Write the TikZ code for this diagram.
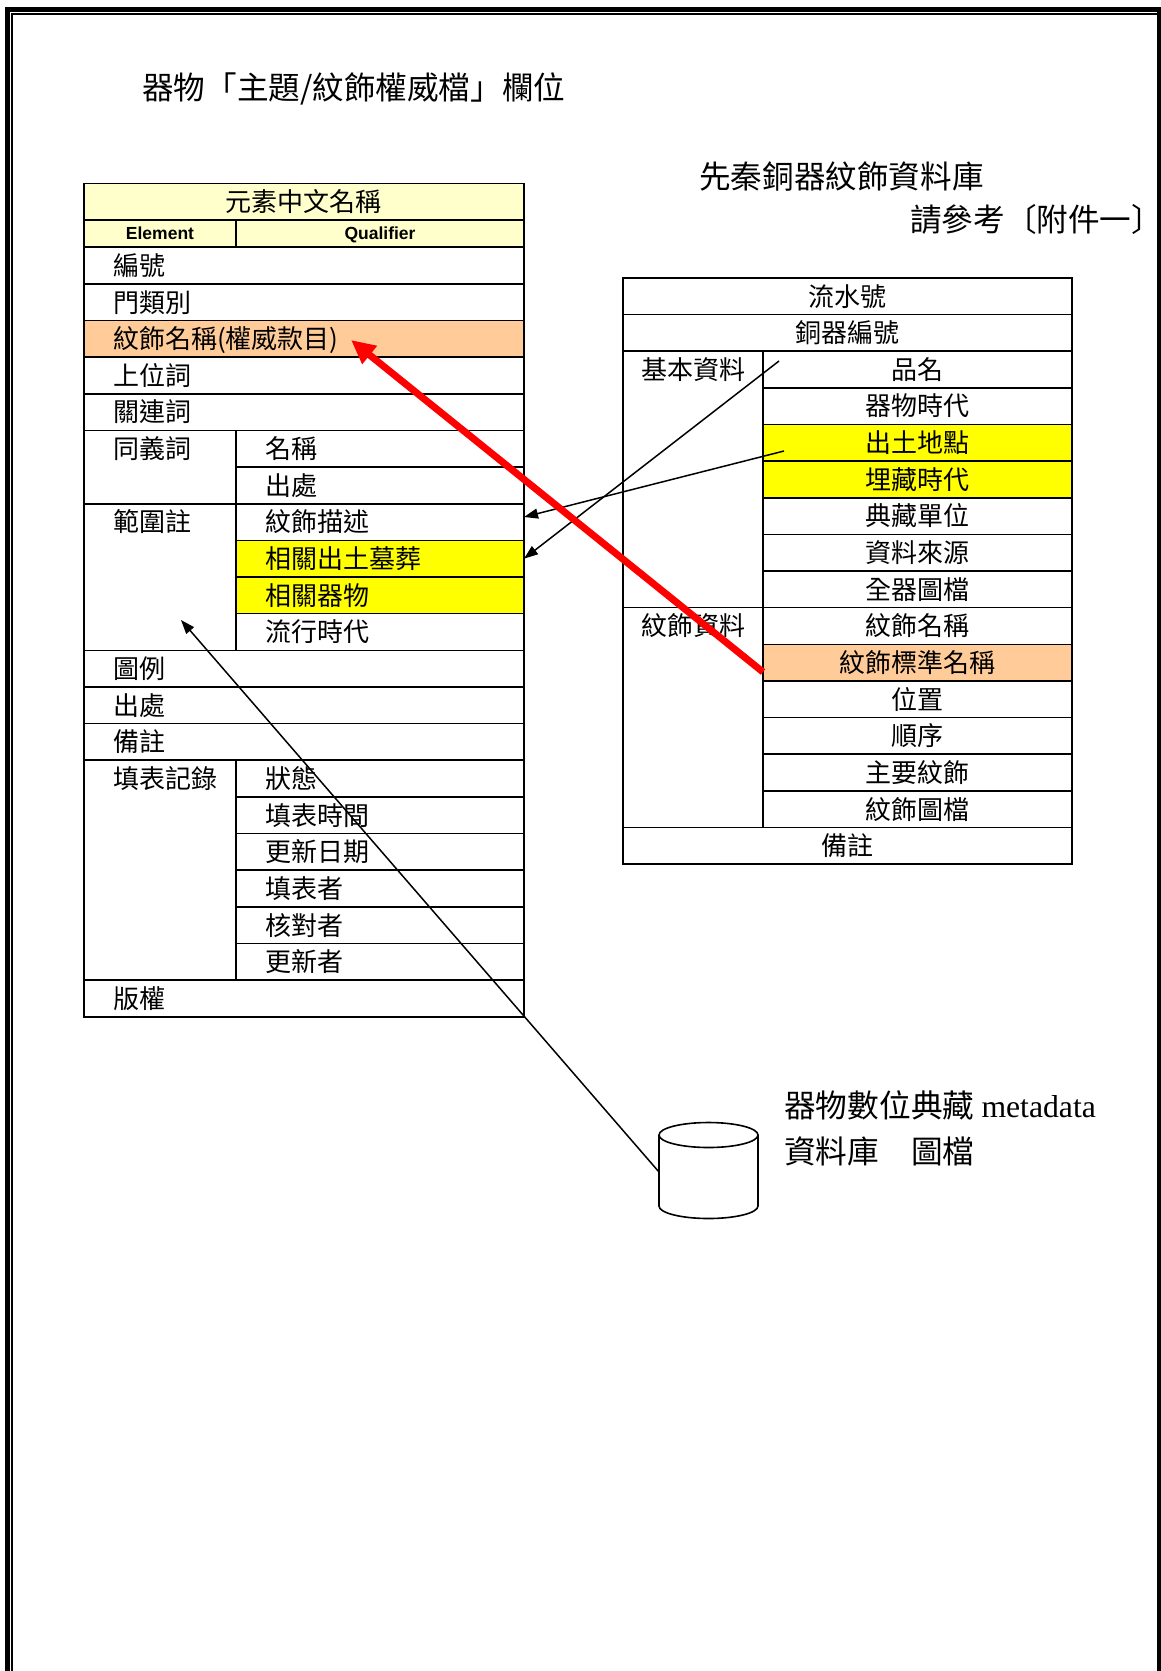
\documentclass[tikz,border=0pt]{standalone}
\usepackage{fontspec}
\usepackage{tikz}
\usetikzlibrary{arrows.meta}

\newfontfamily\tc{Noto Sans CJK TC}
\newfontfamily\hv{Liberation Sans}
\newfontfamily\tms{Liberation Serif}

\definecolor{hdryellow}{HTML}{FFFFCC}
\definecolor{peach}{HTML}{FFCC99}
\definecolor{hilite}{HTML}{FFFF00}

\begin{document}
\begin{tikzpicture}[
  x=1pt, y=-1pt,
  every node/.style={font=\tc\fontsize{26}{30}\selectfont},
  cell/.style={draw, line width=1.6pt, anchor=north west, inner ysep=0pt, outer sep=0pt,
    text height=28.2pt, text depth=8.45pt},
  lcell/.style={cell, align=left, inner xsep=29pt, text width=#1}, % text flush left
  rcell/.style={cell, align=center, inner xsep=0pt, text width=#1}, % text centred
  full/.style={lcell=382pt},
  elm/.style={lcell=94pt},
  qual/.style={lcell=230pt},
  rfull/.style={rcell=449pt},
  rgrp/.style={rcell=140pt},
  rval/.style={rcell=309pt},
  ptr/.style={-{Triangle[length=14pt,width=10pt]}, line width=1.5pt},
  heading/.style={anchor=base west, inner sep=0pt, font=\tc\fontsize{31.6}{36}\selectfont}
]
  \useasboundingbox (0,0) rectangle (1160,1671);
  % page border
  \draw[line width=5pt] (7.5,1700) -- (7.5,9) -- (1200,9);
  \draw[line width=1.6pt] (12,1700) -- (12,14.2) -- (1157,14.2);
  \draw[line width=5pt] (1159.5,12) -- (1159.5,1700);

  \node[heading] (title) at (142,99) {器物「主題/紋飾權威檔」欄位};
  \node[heading] (dbtitle) at (699,188) {先秦銅器紋飾資料庫};
  \node[heading] (dbref) at (910,231) {請參考〔附件一〕};

  % authority file fields
  \node[rcell=440pt, fill=hdryellow] (hdr) at (84,183.5) {元素中文名稱};
  \node[rcell=152pt, fill=hdryellow, font=\hv\bfseries\fontsize{17.5}{20}\selectfont,
    text height=19.8pt, text depth=7.2pt] (elem) at (hdr.south west) {Element};
  \node[rcell=288pt, fill=hdryellow, font=\hv\bfseries\fontsize{17.5}{20}\selectfont,
    text height=19.8pt, text depth=7.2pt] (qualh) at (elem.north east) {Qualifier};
  \node[full] (num) at (elem.south west) {編號};
  \node[full] (cat) at (num.south west) {門類別};
  \node[full, fill=peach] (auth) at (cat.south west) {紋飾名稱(權威款目)};
  \node[full] (broader) at (auth.south west) {上位詞};
  \node[full] (related) at (broader.south west) {關連詞};
  \node[elm, text depth=45.1pt] (syn) at (related.south west) {同義詞};
  \node[qual] (synname) at (syn.north east) {名稱};
  \node[qual] (synsrc) at (synname.south west) {出處};
  \node[elm, text depth=118.4pt] (scopenote) at (syn.south west) {範圍註};
  \node[qual] (desc) at (scopenote.north east) {紋飾描述};
  \node[qual, fill=hilite] (tomb) at (desc.south west) {相關出土墓葬};
  \node[qual, fill=hilite] (relobj) at (tomb.south west) {相關器物};
  \node[qual] (period) at (relobj.south west) {流行時代};
  \node[full] (legend) at (scopenote.south west) {圖例};
  \node[full] (source) at (legend.south west) {出處};
  \node[full] (remark) at (source.south west) {備註};
  \node[elm, text depth=191.7pt] (rec) at (remark.south west) {填表記錄};
  \node[qual] (status) at (rec.north east) {狀態};
  \node[qual] (filltime) at (status.south west) {填表時間};
  \node[qual] (upddate) at (filltime.south west) {更新日期};
  \node[qual] (filler) at (upddate.south west) {填表者};
  \node[qual] (checker) at (filler.south west) {核對者};
  \node[qual] (updater) at (checker.south west) {更新者};
  \node[full] (copyr) at (rec.south west) {版權};

  % bronze ornament database
  \node[rfull] (serial) at (623,277.8) {流水號};
  \node[rfull] (bronze) at (serial.south west) {銅器編號};
  \node[rgrp, text depth=228.35pt] (basic) at (bronze.south west) {基本資料};
  \node[rval] (pname) at (basic.north east) {品名};
  \node[rval] (era) at (pname.south west) {器物時代};
  \node[rval, fill=hilite] (site) at (era.south west) {出土地點};
  \node[rval, fill=hilite] (burial) at (site.south west) {埋藏時代};
  \node[rval] (holder) at (burial.south west) {典藏單位};
  \node[rval] (datasrc) at (holder.south west) {資料來源};
  \node[rval] (fullimg) at (datasrc.south west) {全器圖檔};
  \node[rgrp, text depth=191.7pt] (orn) at (basic.south west) {紋飾資料};
  \node[rval] (ornname) at (orn.north east) {紋飾名稱};
  \node[rval, fill=peach] (stdname) at (ornname.south west) {紋飾標準名稱};
  \node[rval] (pos) at (stdname.south west) {位置};
  \node[rval] (order) at (pos.south west) {順序};
  \node[rval] (mainorn) at (order.south west) {主要紋飾};
  \node[rval] (ornimg) at (mainorn.south west) {紋飾圖檔};
  \node[rfull] (rnote) at (orn.south west) {備註};

  % image database
  \draw[line width=1.6pt] (708.5,1135) ellipse[x radius=49.5pt, y radius=12.5pt];
  \draw[line width=1.6pt] (659,1135) -- (659,1206)
    arc[start angle=180, end angle=360, x radius=49.5pt, y radius=12.5pt] -- (758,1135);
  \coordinate (db) at (659,1172);
  \node[anchor=base west, inner sep=0pt, align=left,
    font=\tc\fontsize{31.7}{46}\selectfont] (dblabel) at (784,1163)
    {器物數位典藏 {\tms metadata}\\資料庫　圖檔};

  \coordinate (pinfrom) at (779,361);
  \coordinate (sitefrom) at (784,451);
  \coordinate (authto) at (351,340);
  \coordinate (scopeto) at (181,620);
  \draw[ptr] (pinfrom) -- (tomb.east);
  \draw[ptr] (sitefrom) -- ([yshift=5pt]desc.east);
  \draw[ptr] (db) -- (scopeto);
  \draw[red, line width=7pt, -{Triangle[length=24pt,width=22pt]}]
    ([yshift=-9.4pt]stdname.west) -- (authto);
\end{tikzpicture}
\end{document}
